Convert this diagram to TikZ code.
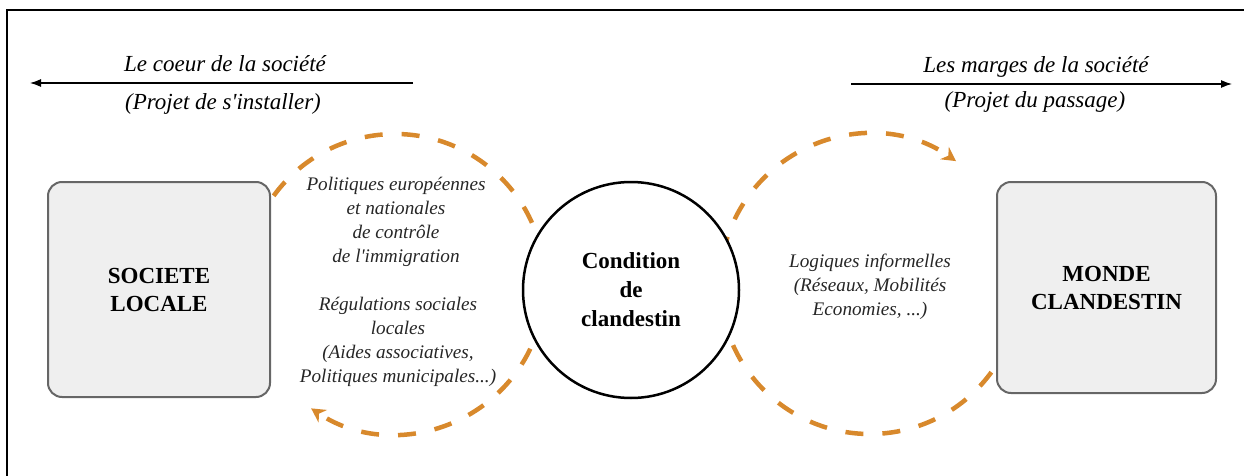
\documentclass[tikz,border=0pt]{standalone}
\usepackage{fontspec}
\setmainfont{Liberation Serif}
\usetikzlibrary{arrows.meta,positioning}
\definecolor{ArcOrange}{HTML}{D8892C}
\definecolor{BoxGrey}{HTML}{EFEFEF}
\definecolor{BoxLine}{HTML}{666666}
\tikzset{
  monde/.style={
    rounded corners=14pt,
    fill=BoxGrey,
    draw=BoxLine,
    line width=2pt,
    align=center,
    font=\fontsize{23}{28}\selectfont\bfseries
  },
  boucle/.style={
    draw=ArcOrange,
    line width=4.5pt,
    dash pattern=on 18pt off 19pt,
    -{Stealth[length=14pt,width=15pt]}
  },
  titre/.style={font=\fontsize{23}{28}\selectfont\itshape},
  glose/.style={align=center, text=black!85, font=\fontsize{19.2}{24}\selectfont\itshape},
}

\begin{document}
\begin{tikzpicture}[x=1pt,y=1pt]
  \useasboundingbox (0,0) rectangle (1244,-476);
  % cadre
  \draw[line width=1.5pt] (7,-476) -- (7,-10) -- (1244,-10);

  % en-tetes
  \node[titre] (coeur) at (225,-64) {Le coeur de la société};
  \node[titre] (installer) at (223,-104) {(Projet de s\textquotesingle installer)};
  \coordinate (coeurD) at (413,-83);
  \coordinate (coeurG) at (30,-83);
  \draw[line width=1.2pt, -{Latex[length=11pt,width=8pt]}] (coeurD) -- (coeurG);

  \node[titre] (marges) at (1036,-67) {Les marges de la société};
  \node[titre] (passage) at (1035,-102) {(Projet du passage)};
  \coordinate (margesG) at (851,-84);
  \coordinate (margesD) at (1232,-84);
  \draw[line width=1.2pt, -{Latex[length=11pt,width=8pt]}] (margesG) -- (margesD);

  % boucles
  \coordinate (gauche) at (395,-284);
  \coordinate (droite) at (870,-284);
  \draw[boucle] (gauche) ++(144:150) arc[start angle=144, end angle=-124, radius=150];
  \draw[boucle] (droite) ++(-36:150) arc[start angle=-36, end angle=-305, radius=150];

  % noeuds
  \node[monde, minimum width=222pt, minimum height=215pt] (locale) at (159,-289.5) {SOCIETE\\LOCALE};
  \node[monde, minimum width=219pt, minimum height=211pt] (clandestin) at (1106.5,-287.5) {MONDE\\CLANDESTIN};
  \node[
    circle,
    draw=black,
    fill=white,
    line width=2.5pt,
    minimum size=216pt,
    align=center,
    font=\fontsize{23}{29}\selectfont\bfseries
  ] (condition) at (631,-290) {Condition\\de\\clandestin};

  % textes
  \node[glose] (politiques) at (396,-222) {Politiques européennes\\et nationales\\de contrôle\\de l\textquotesingle immigration};
  \node[glose] (regulations) at (398,-342) {Régulations sociales\\locales\\(Aides associatives,\\Politiques municipales...)};
  \node[glose] (logiques) at (870,-287) {Logiques informelles\\(Réseaux, Mobilités\\Economies, ...)};
\end{tikzpicture}
\end{document}
